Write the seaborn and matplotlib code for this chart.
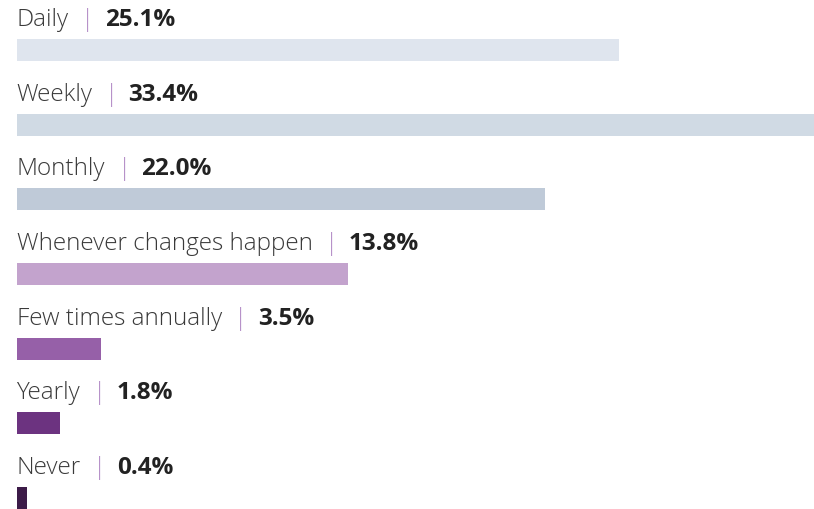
import matplotlib
matplotlib.use("Agg")
import matplotlib.pyplot as plt
import pandas as pd
import seaborn as sns

# Data
categories = ["Daily", "Weekly", "Monthly", "Whenever changes happen",
              "Few times annually", "Yearly", "Never"]
shares = [25.1, 33.4, 22.0, 13.8, 3.5, 1.8, 0.4]
bar_colors = ["#dfe5ee", "#d0dae4", "#bfcad8", "#c3a3cd",
              "#9660a8", "#6c3380", "#3c1b48"]

sns.set_theme(style="white")
plt.rcParams["font.family"] = ["Open Sans", "DejaVu Sans"]

df = pd.DataFrame({"category": categories, "share": shares})

fig = plt.figure(figsize=(8.14, 5.09), dpi=100)
ax = fig.add_axes([17 / 814, 0, 1 - 17 / 814, 1])

sns.barplot(data=df, x="share", y="category", hue="category",
            palette=bar_colors, orient="h", width=0.295,
            legend=False, ax=ax, saturation=1, linewidth=0)

ax.set_xlim(0, (814 - 17) / 23.98)
ax.set_ylim(6.147, -0.670)
ax.axis("off")

# Labels: "Name  |  NN.N%"
for i, (cat, val) in enumerate(zip(categories, shares)):
    t1 = ax.text(-0.02, i - 0.321, cat, fontsize=17.5, fontweight="light",
                 color="#3a3a3a", va="baseline", ha="left")
    t2 = ax.annotate("|", xy=(1, 0), xycoords=t1, xytext=(9, 0),
                     textcoords="offset points", fontsize=17.5,
                     fontweight="light", color="#b792c9", va="bottom")
    ax.annotate(f"{val:.1f}%", xy=(1, 0), xycoords=t2, xytext=(7.5, 0),
                textcoords="offset points", fontsize=17.5,
                fontweight="bold", color="#222222", va="bottom")

fig.savefig("out.png", dpi=100)
